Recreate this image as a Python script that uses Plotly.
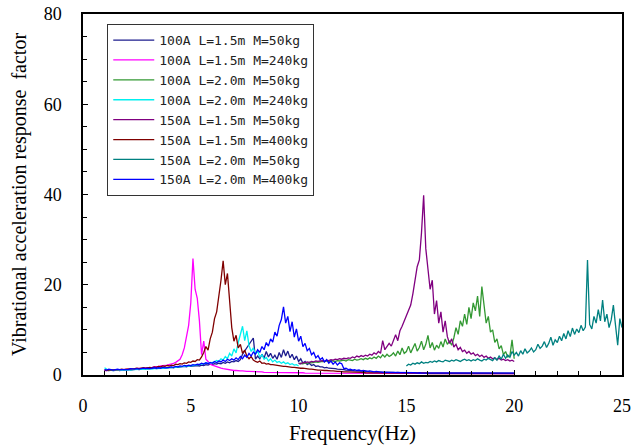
import numpy as np
import plotly.graph_objects as go

# frequency grids (Hz), 0.1 Hz resolution
freq_1_20 = np.round(np.arange(1.0, 20.01, 0.1), 1)
freq_1_10 = np.round(np.arange(1.0, 10.01, 0.1), 1)
freq_10_20 = np.round(np.arange(10.0, 20.01, 0.1), 1)
freq_15_25 = np.round(np.arange(15.0, 25.01, 0.1), 1)

# 100A L=1.5m M=50kg
a100_l15_m50 = [
    1.0, 1.1, 1.0, 1.1, 1.0, 1.1, 1.1, 1.0, 1.1, 1.2,
    1.1, 1.2, 1.1, 1.2, 1.2, 1.3, 1.2, 1.3, 1.3, 1.4,
    1.3, 1.4, 1.4, 1.5, 1.4, 1.5, 1.5, 1.6, 1.5, 1.6,
    1.6, 1.7, 1.6, 1.8, 1.7, 1.8, 1.8, 1.9, 1.8, 2.0,
    1.9, 2.0, 2.0, 2.1, 2.0, 2.2, 2.1, 2.3, 2.2, 2.4,
    2.3, 2.5, 2.4, 2.6, 2.5, 2.8, 2.6, 2.9, 2.7, 3.0,
    2.9, 3.2, 3.0, 3.4, 4.6, 5.3, 6.1, 6.9, 7.6, 8.2,
    3.5, 4.2, 3.6, 4.6, 3.8, 5.2, 4.0, 4.8, 3.7, 4.4,
    3.5, 5.0, 3.9, 5.6, 4.2, 5.3, 3.8, 4.6, 3.4, 4.2,
    3.0, 3.6, 2.6, 3.0, 2.3, 2.6, 2.1, 2.3, 1.9, 2.0,
    1.8, 1.8, 1.6, 1.7, 1.5, 1.5, 1.4, 1.4, 1.3, 1.3,
    1.2, 1.2, 1.1, 1.1, 1.0, 1.0, 0.9, 0.9, 0.9, 0.8,
    0.8, 0.8, 0.8, 0.7, 0.7, 0.7, 0.7, 0.7, 0.6, 0.6,
    0.6, 0.6, 0.6, 0.6, 0.6, 0.5, 0.6, 0.5, 0.5, 0.5,
    0.5, 0.5, 0.5, 0.5, 0.5, 0.5, 0.5, 0.5, 0.4, 0.5,
    0.4, 0.5, 0.4, 0.4, 0.5, 0.4, 0.4, 0.4, 0.4, 0.4,
    0.4, 0.4, 0.4, 0.4, 0.4, 0.4, 0.4, 0.4, 0.4, 0.4,
    0.4, 0.4, 0.4, 0.4, 0.4, 0.4, 0.4, 0.4, 0.4, 0.4,
    0.4, 0.4, 0.4, 0.4, 0.4, 0.4, 0.4, 0.4, 0.4, 0.4,
    0.4,
]

# 100A L=1.5m M=240kg
a100_l15_m240 = [
    1.0, 1.0, 1.1, 1.0, 1.1, 1.1, 1.2, 1.1, 1.2, 1.2,
    1.2, 1.3, 1.3, 1.3, 1.4, 1.4, 1.4, 1.5, 1.5, 1.6,
    1.6, 1.7, 1.7, 1.8, 1.8, 1.9, 2.0, 2.0, 2.1, 2.2,
    2.3, 2.4, 2.6, 2.8, 3.1, 3.5, 4.5, 6.0, 8.5, 11.0,
    16.0, 25.8, 19.0, 17.0, 12.0, 4.5, 7.5, 3.5, 3.0, 2.4,
    2.2, 2.0, 1.8, 1.6, 1.5, 1.4, 1.3, 1.2, 1.1, 1.1,
    1.0, 1.0, 0.9, 0.9, 0.9, 0.8, 0.8, 0.8, 0.8, 0.7,
    0.7, 0.7, 0.7, 0.7, 0.6, 0.6, 0.6, 0.6, 0.6, 0.6,
    0.6, 0.5, 0.5, 0.5, 0.5, 0.5, 0.5, 0.5, 0.5, 0.5,
    0.5, 0.5, 0.5, 0.4, 0.4, 0.4, 0.4, 0.4, 0.4, 0.4,
    0.4, 0.4, 0.4, 0.4, 0.4, 0.4, 0.4, 0.4, 0.4, 0.4,
    0.4, 0.4, 0.4, 0.3, 0.3, 0.3, 0.3, 0.3, 0.3, 0.3,
    0.3, 0.3, 0.3, 0.3, 0.3, 0.3, 0.3, 0.3, 0.3, 0.3,
    0.3, 0.3, 0.3, 0.3, 0.3, 0.3, 0.3, 0.3, 0.3, 0.3,
    0.3, 0.3, 0.3, 0.3, 0.3, 0.3, 0.3, 0.3, 0.3, 0.3,
    0.3, 0.3, 0.3, 0.3, 0.3, 0.3, 0.3, 0.3, 0.3, 0.3,
    0.3, 0.3, 0.3, 0.3, 0.3, 0.3, 0.3, 0.3, 0.3, 0.3,
    0.3, 0.3, 0.3, 0.3, 0.3, 0.3, 0.3, 0.3, 0.3, 0.3,
    0.3, 0.3, 0.3, 0.3, 0.3, 0.3, 0.3, 0.3, 0.3, 0.3,
    0.3,
]

# 100A L=2.0m M=50kg (10-20 Hz)
a100_l20_m50 = [
    2.5, 2.6, 2.5, 2.7, 2.6, 2.8, 2.7, 2.8, 2.9, 2.8,
    2.9, 3.0, 2.9, 3.1, 3.0, 3.2, 3.1, 3.0, 3.2, 3.1,
    3.2, 3.3, 3.1, 3.4, 3.3, 3.2, 3.5, 3.3, 3.4, 3.6,
    3.4, 3.7, 3.5, 3.8, 3.6, 4.0, 3.7, 4.2, 3.8, 4.5,
    4.0, 4.6, 4.1, 4.4, 4.9, 4.2, 5.3, 4.5, 6.0, 4.8,
    5.2, 6.4, 4.9, 5.8, 7.0, 5.3, 6.1, 7.5, 5.6, 6.8,
    8.8, 6.0, 7.2, 5.5, 6.6, 5.9, 7.4, 6.2, 8.0, 6.8,
    7.5, 6.6, 8.2, 10.5, 9.0, 12.0, 10.8, 13.5, 11.2, 15.0,
    12.5, 16.0, 14.2, 17.5, 13.0, 19.6, 15.0, 11.5, 13.0, 9.5,
    10.0, 7.2, 8.0, 5.8, 6.5, 4.5, 5.2, 4.0, 4.2, 7.8,
    3.6,
]

# 100A L=2.0m M=240kg (1-10 Hz)
a100_l20_m240 = [
    1.6, 1.3, 1.0, 1.1, 1.0, 1.1, 1.1, 1.0, 1.1, 1.1,
    1.1, 1.2, 1.1, 1.2, 1.2, 1.2, 1.3, 1.2, 1.3, 1.3,
    1.3, 1.4, 1.3, 1.4, 1.4, 1.5, 1.4, 1.5, 1.5, 1.6,
    1.6, 1.6, 1.7, 1.7, 1.8, 1.8, 1.9, 1.9, 2.0, 2.0,
    2.1, 2.1, 2.2, 2.3, 2.3, 2.4, 2.5, 2.6, 2.6, 2.7,
    2.8, 2.9, 3.2, 3.0, 3.6, 3.3, 4.1, 3.6, 4.8, 4.2,
    5.8, 4.9, 7.2, 8.9, 10.8, 7.6, 9.8, 6.5, 5.2, 6.0,
    4.6, 5.4, 3.9, 4.5, 3.5, 3.9, 3.1, 3.6, 2.9, 3.3,
    2.8, 3.0, 2.6, 2.9, 2.5, 2.7, 2.3, 2.5, 2.2, 2.3,
    2.0,
]

# 150A L=1.5m M=50kg (10-20 Hz)
a150_l15_m50 = [
    2.6, 2.5, 2.8, 2.7, 2.9, 2.8, 3.0, 2.9, 3.1, 3.0,
    3.1, 3.2, 3.0, 3.3, 3.2, 3.4, 3.3, 3.5, 3.4, 3.6,
    3.5, 3.7, 3.6, 3.8, 3.7, 4.0, 3.8, 4.2, 4.0, 4.3,
    4.1, 4.4, 4.2, 4.6, 4.4, 4.9, 4.6, 5.2, 4.8, 7.6,
    5.6, 6.2, 7.0, 6.4, 7.8, 8.9, 7.6, 9.8, 10.8, 12.0,
    13.2, 14.5, 15.5, 18.0, 21.5, 24.0, 25.5, 31.5, 39.8, 28.0,
    23.5, 19.0, 21.0, 13.5, 16.5, 11.5, 14.0, 9.5, 12.0, 8.5,
    7.0, 8.0, 6.2, 6.8, 5.6, 6.1, 5.2, 5.5, 4.8, 5.2,
    4.6, 4.9, 4.3, 4.6, 4.1, 4.4, 3.9, 4.2, 3.7, 4.0,
    3.6, 3.8, 3.4, 3.7, 3.3, 3.5, 3.2, 3.4, 3.1, 3.3,
    3.0,
]

# 150A L=1.5m M=400kg
a150_l15_m400 = [
    1.1, 1.0, 1.1, 1.1, 1.2, 1.1, 1.2, 1.2, 1.3, 1.2,
    1.3, 1.3, 1.4, 1.3, 1.4, 1.5, 1.4, 1.5, 1.6, 1.5,
    1.6, 1.7, 1.6, 1.8, 1.7, 1.9, 1.8, 2.0, 1.9, 2.1,
    2.0, 2.2, 2.1, 2.4, 2.3, 2.5, 2.4, 2.7, 2.6, 2.9,
    2.8, 3.1, 3.0, 3.4, 3.3, 4.0, 5.0, 6.3, 5.5, 8.0,
    9.5, 12.5, 14.0, 17.0, 21.0, 25.3, 20.0, 22.5, 16.0, 10.5,
    7.5, 8.8, 6.0, 6.8, 4.8, 5.5, 4.2, 3.6, 4.1, 3.3,
    3.0, 2.8, 3.1, 2.6, 2.7, 2.4, 2.5, 2.3, 2.3, 2.2,
    2.1, 2.0, 2.0, 1.9, 1.9, 1.8, 1.8, 1.7, 1.7, 1.6,
    1.6, 1.5, 1.5, 1.4, 1.4, 1.3, 1.3, 1.2, 1.2, 1.1,
    1.1, 1.0, 1.0, 1.0, 0.9, 0.9, 0.9, 0.8, 0.8, 0.8,
    0.7, 0.7, 0.7, 0.7, 0.7, 0.6, 0.6, 0.6, 0.6, 0.6,
    0.6, 0.5, 0.5, 0.5, 0.5, 0.5, 0.5, 0.5, 0.5, 0.5,
    0.5, 0.4, 0.4, 0.4, 0.4, 0.4, 0.4, 0.4, 0.4, 0.4,
    0.4, 0.4, 0.4, 0.4, 0.4, 0.4, 0.4, 0.4, 0.4, 0.4,
    0.3, 0.3, 0.3, 0.3, 0.3, 0.3, 0.3, 0.3, 0.3, 0.3,
    0.3, 0.3, 0.3, 0.3, 0.3, 0.3, 0.3, 0.3, 0.3, 0.3,
    0.3, 0.3, 0.3, 0.3, 0.3, 0.3, 0.3, 0.3, 0.3, 0.3,
    0.3, 0.3, 0.3, 0.3, 0.3, 0.3, 0.3, 0.3, 0.3, 0.3,
    0.3,
]

# 150A L=2.0m M=50kg (15-25 Hz)
a150_l20_m50 = [
    2.0, 2.4, 2.2, 2.6, 2.4, 2.7, 2.5, 2.9, 2.6, 2.8,
    2.7, 3.0, 2.8, 3.1, 2.9, 3.2, 3.0, 2.9, 3.3, 3.1,
    3.0, 3.3, 3.1, 3.4, 3.2, 3.0, 3.3, 3.5, 3.2, 3.4,
    3.1, 3.4, 3.2, 3.6, 3.3, 3.1, 3.5, 3.3, 3.7, 3.4,
    3.2, 3.8, 3.3, 4.2, 3.5, 4.6, 3.7, 4.4, 3.9, 5.2,
    4.4, 5.0, 4.2, 5.4, 4.6, 5.8, 4.9, 5.3, 6.0, 5.1,
    5.6, 6.8, 5.9, 6.4, 7.4, 6.1, 7.0, 8.4, 6.6, 7.8,
    7.2, 8.6, 7.6, 9.2, 8.0, 9.8, 8.5, 10.4, 9.0, 10.2,
    9.4, 11.0, 9.8, 10.6, 25.5, 11.2, 10.2, 13.0, 11.5, 14.5,
    12.0, 16.6, 11.8, 13.5, 10.5, 12.2, 15.5, 11.0, 6.6, 12.5,
    10.5,
]

# 150A L=2.0m M=400kg
a150_l20_m400 = [
    1.2, 1.1, 1.3, 1.2, 1.1, 1.2, 1.3, 1.2, 1.2, 1.3,
    1.3, 1.2, 1.4, 1.3, 1.3, 1.4, 1.3, 1.4, 1.5, 1.4,
    1.5, 1.4, 1.5, 1.6, 1.5, 1.6, 1.5, 1.7, 1.6, 1.6,
    1.7, 1.8, 1.7, 1.9, 1.8, 2.0, 1.9, 2.1, 2.0, 2.2,
    2.1, 2.3, 2.2, 2.4, 2.3, 2.6, 2.4, 2.7, 2.5, 2.8,
    2.6, 3.0, 2.7, 3.1, 2.9, 3.3, 3.0, 3.5, 3.2, 3.6,
    3.3, 3.8, 3.4, 4.1, 3.6, 4.4, 3.9, 4.8, 4.2, 5.1,
    4.6, 5.6, 5.0, 6.3, 5.6, 7.2, 6.4, 8.0, 7.3, 9.5,
    8.6, 11.0, 12.3, 15.1, 11.5, 13.0, 9.6, 11.8, 8.4, 10.2,
    7.5, 8.6, 6.3, 7.0, 5.4, 5.9, 4.5, 5.0, 3.8, 4.3,
    3.4, 3.8, 2.9, 3.4, 2.6, 3.1, 2.4, 2.9, 2.2, 2.7,
    2.5, 1.4, 1.5, 1.2, 1.3, 1.1, 1.2, 1.0, 1.1, 0.9,
    1.0, 0.9, 0.8, 0.9, 0.8, 0.7, 0.8, 0.7, 0.7, 0.6,
    0.6, 0.6, 0.6, 0.5, 0.6, 0.5, 0.5, 0.5, 0.5, 0.5,
    0.5, 0.5, 0.5, 0.5, 0.5, 0.4, 0.5, 0.4, 0.4, 0.4,
    0.4, 0.4, 0.4, 0.4, 0.4, 0.4, 0.4, 0.4, 0.4, 0.4,
    0.4, 0.4, 0.4, 0.4, 0.4, 0.4, 0.4, 0.4, 0.4, 0.4,
    0.4, 0.4, 0.4, 0.4, 0.4, 0.4, 0.4, 0.4, 0.4, 0.4,
    0.4, 0.4, 0.4, 0.4, 0.4, 0.4, 0.4, 0.4, 0.4, 0.4,
    0.4,
]

series = [
    ("100A L=1.5m M=50kg", freq_1_20, a100_l15_m50, "#1c1c8e"),
    ("100A L=1.5m M=240kg", freq_1_20, a100_l15_m240, "#ff00ff"),
    ("100A L=2.0m M=50kg", freq_10_20, a100_l20_m50, "#339933"),
    ("100A L=2.0m M=240kg", freq_1_10, a100_l20_m240, "#00f0f0"),
    ("150A L=1.5m M=50kg", freq_10_20, a150_l15_m50, "#800080"),
    ("150A L=1.5m M=400kg", freq_1_20, a150_l15_m400, "#800000"),
    ("150A L=2.0m M=50kg", freq_15_25, a150_l20_m50, "#008080"),
    ("150A L=2.0m M=400kg", freq_1_20, a150_l20_m400, "#0000ff"),
]

fig = go.Figure()
for name, fx, fy, col in series:
    fig.add_trace(go.Scatter(x=fx, y=fy, mode="lines", name=name,
                             line=dict(color=col, width=1.3)))

serif = "Liberation Serif, Times New Roman, serif"

fig.update_layout(
    width=636, height=445,
    margin=dict(l=83, r=14, t=14, b=70),
    paper_bgcolor="white", plot_bgcolor="white",
    showlegend=True,
    legend=dict(x=0.045, y=0.972, xanchor="left", yanchor="top",
                bgcolor="white", bordercolor="#333333", borderwidth=1,
                font=dict(family="DejaVu Sans Mono", size=13, color="#222222"),
                itemwidth=41, tracegroupgap=0),
)
fig.update_xaxes(
    range=[0, 25], dtick=5, tick0=0, automargin=False,
    showgrid=False, zeroline=False,
    showline=True, linecolor="black", linewidth=1.5, mirror=True,
    ticks="inside", ticklen=5, tickcolor="black", ticklabelstandoff=14,
    minor=dict(dtick=1, ticks="inside", ticklen=4, tickcolor="black"),
    tickfont=dict(family=serif, size=18, color="black"),
    title=dict(text="Frequency(Hz)", font=dict(family=serif, size=21, color="black"),
               standoff=10),
)
fig.update_yaxes(
    range=[0, 80], dtick=20, tick0=0, automargin=False,
    showgrid=False, zeroline=False,
    showline=True, linecolor="black", linewidth=1.5, mirror=True,
    ticks="inside", ticklen=5, tickcolor="black", ticklabelstandoff=16,
    minor=dict(dtick=5, ticks="inside", ticklen=4, tickcolor="black"),
    tickfont=dict(family=serif, size=18, color="black"),
    title=dict(text="Vibrational acceleration response  factor",
               font=dict(family=serif, size=20, color="black"), standoff=12),
)

# drop the default 8px body margin so the figure sits at the window corner
fig.write_html("out.html", config={"displayModeBar": False},
               post_script="document.body.style.margin='0';")
